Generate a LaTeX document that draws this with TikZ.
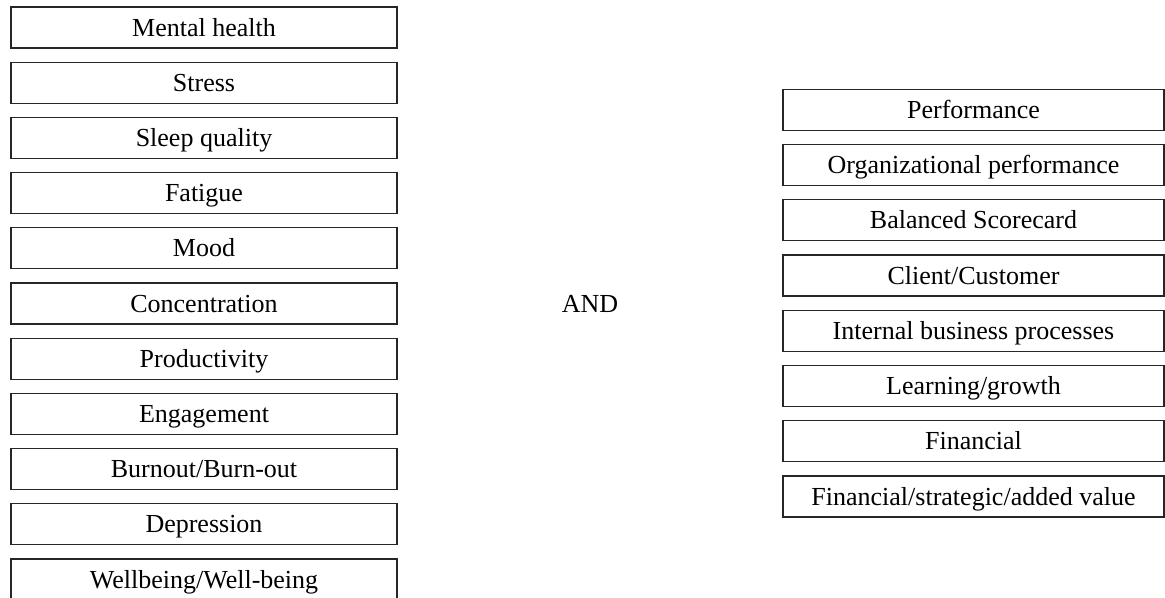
\documentclass[tikz,border=0pt]{standalone}
\usepackage{fontspec}
\setmainfont{Liberation Serif}
\usepackage{tikz}
\usetikzlibrary{positioning}

\begin{document}
\begin{tikzpicture}[
    x=0.5pt,y=-0.5pt,
    node distance=6.5pt,
    box/.style={
        rectangle,
        draw=black!85,
        line width=0.6pt,
        minimum width=193pt,
        minimum height=20.5pt,
        inner sep=0pt,
        text height=8.6pt,
        text depth=0pt,
        align=center,
        font=\fontsize{13}{15.6}\selectfont
    },
    word/.style={
        font=\fontsize{13}{15.6}\selectfont
    }
]
\useasboundingbox (0,0) rectangle (1165,598);

% left column
\node[box] (mental) at (204,27.5)
{Mental health};

\node[box,below=of mental] (stress)
{Stress};

\node[box,below=of stress] (sleep)
{Sleep quality};

\node[box,below=of sleep] (fatigue)
{Fatigue};

\node[box,below=of fatigue] (mood)
{Mood};

\node[box,below=of mood] (concentration)
{Concentration};

\node[box,below=of concentration] (productivity)
{Productivity};

\node[box,below=of productivity] (engagement)
{Engagement};

\node[box,below=of engagement] (burnout)
{Burnout/Burn-out};

\node[box,below=of burnout] (depression)
{Depression};

\node[box,below=of depression] (wellbeing)
{Wellbeing/Well-being};

% middle
\node[word] (and) at (590,304)
{AND};

% right column
\node[box,minimum width=190.5pt] (performance) at (973.5,110)
{Performance};

\node[box,minimum width=190.5pt,below=of performance] (orgperf)
{Organizational performance};

\node[box,minimum width=190.5pt,below=of orgperf] (scorecard)
{Balanced Scorecard};

\node[box,minimum width=190.5pt,below=of scorecard] (client)
{Client/Customer};

\node[box,minimum width=190.5pt,below=of client] (internal)
{Internal business processes};

\node[box,minimum width=190.5pt,below=of internal] (learning)
{Learning/growth};

\node[box,minimum width=190.5pt,below=of learning] (financial)
{Financial};

\node[box,minimum width=190.5pt,below=of financial] (addedvalue)
{Financial/strategic/added value};

\end{tikzpicture}
\end{document}
